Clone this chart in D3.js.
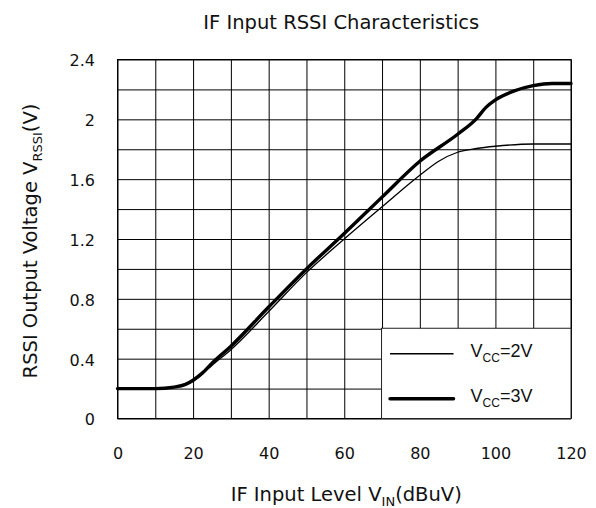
<!DOCTYPE html>
<html>
<head>
<meta charset="utf-8">
<script src="https://cdn.jsdelivr.net/npm/d3@7"></script>
<style>
  body { margin: 0; background: #fff; }
  text { font-family: "DejaVu Sans", Verdana, sans-serif; fill: #111; }
  .leg text { font-family: "Liberation Sans", Arial, sans-serif; }
</style>
</head>
<body>
<svg id="chart"></svg>
<script>
// courbes RSSI
const vin2 = [0, 10, 15, 18, 20, 22.5, 25, 30, 40, 50, 60, 70, 80, 85, 90, 95, 100, 110, 120];
const rssi2 = [0.2, 0.2, 0.21, 0.225, 0.25, 0.3, 0.355, 0.46, 0.715, 0.975, 1.2, 1.415, 1.626, 1.72, 1.78, 1.805, 1.82, 1.835, 1.835];
const vin3 = [0, 10, 15, 18, 20, 22.5, 25, 30, 40, 50, 60, 70, 80, 90, 95, 97.5, 100, 105, 110, 115, 120];
const rssi3 = [0.2, 0.2, 0.21, 0.228, 0.256, 0.305, 0.37, 0.483, 0.745, 1.0, 1.237, 1.48, 1.72, 1.9, 2.005, 2.08, 2.13, 2.19, 2.225, 2.24, 2.24];

const xTicks = [0, 20, 40, 60, 80, 100, 120];
const yTicks = [0, 0.4, 0.8, 1.2, 1.6, 2, 2.4];
const yTickLabels = ["0", "0.4", "0.8", "1.2", "1.6", "2", "2.4"];
const legendLabels = ["=2V", "=3V"];

var margin = {top: 59.5, right: 25, bottom: 89.5, left: 117.5},
width = 596 - margin.left - margin.right,
height = 508 - margin.top - margin.bottom;

const svg = d3.select("#chart")
  .attr("width", 596)
  .attr("height", 508);
const g = svg.append("g").attr("transform", `translate(${margin.left},${margin.top})`);

const x = d3.scaleLinear().domain([0, 120]).range([0, width]);
const y = d3.scaleLinear().domain([0, 2.4]).range([height, 0]);

// grille
g.append("g")
  .attr("transform", `translate(0,${height})`)
  .call(d3.axisBottom(x).tickValues(d3.range(0, 121, 10)).tickSize(-height).tickFormat(""))
  .call(a => a.select(".domain").remove())
  .selectAll("line").attr("stroke", "#000").attr("stroke-width", 1);
g.append("g")
  .call(d3.axisLeft(y).tickValues(d3.range(0, 2.41, 0.2)).tickSize(-width).tickFormat(""))
  .call(a => a.select(".domain").remove())
  .selectAll("line").attr("stroke", "#000").attr("stroke-width", 1);

g.append("rect")
  .attr("width", width).attr("height", height)
  .attr("fill", "none").attr("stroke", "#000").attr("stroke-width", 1);

// étiquettes des axes
const xa = g.append("g")
  .attr("transform", `translate(0,${height})`)
  .call(d3.axisBottom(x).tickValues(xTicks).tickSize(0).tickPadding(29));
xa.select(".domain").remove();
xa.selectAll("text").style("font-size", "16px").attr("fill", "#111");

const ya = g.append("g")
  .call(d3.axisLeft(y).tickValues(yTicks).tickSize(0).tickPadding(22.5)
    .tickFormat((d, i) => yTickLabels[i]));
ya.select(".domain").remove();
ya.selectAll("text").style("font-size", "16px").attr("fill", "#111").attr("dy", "0.4em");

// courbes
const line = d3.line().x(d => x(d[0])).y(d => y(d[1])).curve(d3.curveMonotoneX);
const s2 = vin2.map((v, i) => [v, rssi2[i]]);
const s3 = vin3.map((v, i) => [v, rssi3[i]]);

g.append("path").datum(s2).attr("d", line)
  .attr("fill", "none").attr("stroke", "#000").attr("stroke-width", 1.3);
g.append("path").datum(s3).attr("d", line)
  .attr("fill", "none").attr("stroke", "#000").attr("stroke-width", 3.4)
  .attr("stroke-linejoin", "round").attr("stroke-linecap", "round");

// légende
const leg = g.append("g").attr("class", "leg");
const lx0 = x(70) - 0.5, ly0 = y(0.6) - 0.5;
leg.append("rect")
  .attr("x", lx0).attr("y", ly0)
  .attr("width", width - lx0).attr("height", height - ly0)
  .attr("fill", "#fff").attr("stroke", "#222").attr("stroke-width", 1);
[0, 1].forEach(i => {
  const ly = ly0 + 25.5 + i * 45;
  leg.append("line")
    .attr("x1", lx0 + 8.5).attr("x2", lx0 + 72)
    .attr("y1", ly).attr("y2", ly)
    .attr("stroke", "#000").attr("stroke-width", i ? 3.4 : 1.3)
    .attr("stroke-linecap", i ? "round" : "butt");
  const t = leg.append("text")
    .attr("x", lx0 + 89).attr("y", ly + 3.5)
    .style("font-size", "18px");
  t.append("tspan").text("V");
  t.append("tspan").text("CC").attr("dy", 5).style("font-size", "12px");
  t.append("tspan").text(legendLabels[i]).attr("dy", -5);
});

// titres
svg.append("text")
  .attr("x", margin.left + width / 2 - 3).attr("y", 29)
  .attr("text-anchor", "middle").style("font-size", "19.5px")
  .text("IF Input RSSI Characteristics");

const xt = svg.append("text")
  .attr("x", margin.left + width / 2 + 2).attr("y", 501)
  .attr("text-anchor", "middle").style("font-size", "19.5px");
xt.append("tspan").text("IF Input Level V");
xt.append("tspan").text("IN").attr("dy", 5).style("font-size", "13px");
xt.append("tspan").text("(dBuV)").attr("dy", -5);

const yt = svg.append("text")
  .attr("transform", `translate(37,${margin.top + height / 2 + 2}) rotate(-90)`)
  .attr("text-anchor", "middle").style("font-size", "19.5px");
yt.append("tspan").text("RSSI Output Voltage V");
yt.append("tspan").text("RSSI").attr("dy", 5).style("font-size", "13px");
yt.append("tspan").text("(V)").attr("dy", -5);
</script>
</body>
</html>
